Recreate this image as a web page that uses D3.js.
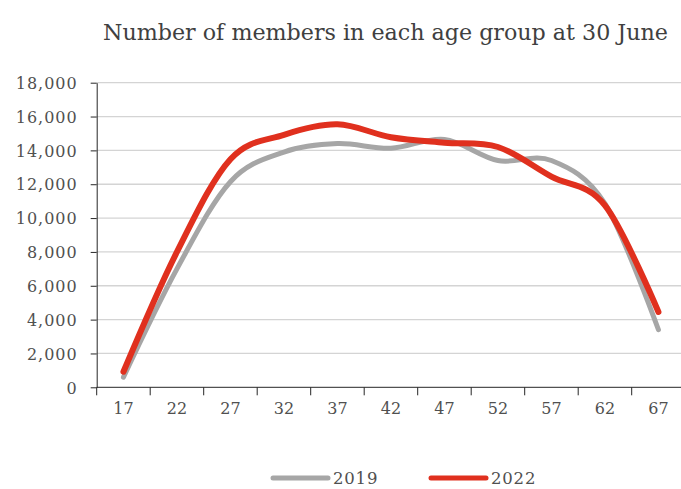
<!DOCTYPE html>
<html>
<head>
<meta charset="utf-8">
<script src="https://cdn.jsdelivr.net/npm/d3@7"></script>
<style>
  html, body { margin: 0; padding: 0; background: #ffffff; }
  svg { display: block; }
  .tick text { font-family: "DejaVu Serif", "Liberation Serif", serif; fill: #505050; }
</style>
</head>
<body>
<script>
// Age groups (youngest age of each five-year band)
const ageGroups = [17, 22, 27, 32, 37, 42, 47, 52, 57, 62, 67];
// Number of members in each age group at 30 June
const members2019 = [600, 7000, 12150, 13900, 14400, 14130, 14650, 13400, 13400, 10850, 3400];
const members2022 = [920, 8000, 13480, 14920, 15540, 14780, 14450, 14200, 12450, 10750, 4450];
const yTickValues = [0, 2000, 4000, 6000, 8000, 10000, 12000, 14000, 16000, 18000];
const seriesNames = ["2019", "2022"];
const seriesColors = ["#a6a6a6", "#e0301e"];

const W = 681, H = 489;
const plot = { left: 96.7, right: 685.2, top: 82.7, bottom: 387.3 };

const svg = d3.select("body").append("svg")
  .attr("width", W).attr("height", H)
  .attr("viewBox", `0 0 ${W} ${H}`);

const x = d3.scaleBand().domain(ageGroups).range([plot.left, plot.right]).padding(0);
const y = d3.scaleLinear().domain([0, 18000]).range([plot.bottom, plot.top]);
const cx = d => x(d) + x.bandwidth() / 2;

// Title, fitted to its width
const title = svg.append("text")
  .attr("x", 385.5).attr("y", 40)
  .attr("text-anchor", "middle")
  .style("font-family", "'DejaVu Serif', 'Liberation Serif', serif")
  .style("font-size", "22px")
  .style("fill", "#404040")
  .text("Number of members in each age group at 30 June");
const tw = title.node().getComputedTextLength();
title.style("font-size", (22 * 565 / tw).toFixed(2) + "px");

// Horizontal gridlines
svg.append("g")
  .selectAll("line")
  .data(yTickValues.filter(v => v > 0))
  .join("line")
  .attr("x1", plot.left).attr("x2", W)
  .attr("y1", d => y(d)).attr("y2", d => y(d))
  .attr("stroke", "#d4d4d4")
  .attr("stroke-width", 1.3);

// Y axis
const yAxis = svg.append("g")
  .attr("transform", `translate(${plot.left},0)`)
  .call(d3.axisLeft(y).tickValues(yTickValues).tickSize(6).tickSizeOuter(0)
    .tickPadding(13).tickFormat(d3.format(",")));
yAxis.select(".domain").attr("stroke", "#262626");
yAxis.selectAll(".tick line").attr("stroke", "#262626");
yAxis.selectAll(".tick text")
  .style("font-size", "16px")
  .style("letter-spacing", "1px")
  .attr("dy", "0.36em");

// X axis: labels centred in each band, tick marks on the band boundaries
const xAxis = svg.append("g")
  .attr("transform", `translate(0,${plot.bottom})`)
  .call(d3.axisBottom(x).tickSize(0).tickPadding(22));
xAxis.select(".domain").remove();
xAxis.selectAll(".tick text")
  .style("font-size", "16px")
  .attr("dy", "0.3em");

const boundaries = ageGroups.map(d => x(d)).concat([plot.right]);
svg.append("g")
  .selectAll("line")
  .data(boundaries)
  .join("line")
  .attr("x1", d => d).attr("x2", d => d)
  .attr("y1", plot.bottom).attr("y2", plot.bottom + 8)
  .attr("stroke", "#262626");
svg.append("line")
  .attr("x1", plot.left).attr("x2", W + 10)
  .attr("y1", plot.bottom).attr("y2", plot.bottom)
  .attr("stroke", "#262626");

// Smoothed series lines
const line = d3.line()
  .x((d, i) => cx(ageGroups[i]))
  .y(d => y(d))
  .curve(d3.curveCardinal.tension(0));

[members2019, members2022].forEach((vals, k) => {
  svg.append("path")
    .datum(vals)
    .attr("d", line)
    .attr("fill", "none")
    .attr("stroke", seriesColors[k])
    .attr("stroke-width", k === 0 ? 5 : 6)
    .attr("stroke-linecap", "round")
    .attr("stroke-linejoin", "round");
});

// Legend
const legendX = [273, 431];
const legend = svg.append("g");
seriesNames.forEach((name, k) => {
  legend.append("line")
    .attr("x1", legendX[k]).attr("x2", legendX[k] + 55)
    .attr("y1", 478).attr("y2", 478)
    .attr("stroke", seriesColors[k])
    .attr("stroke-width", 5)
    .attr("stroke-linecap", "round");
  legend.append("text")
    .attr("x", legendX[k] + 60).attr("y", 484)
    .style("font-family", "'DejaVu Serif', 'Liberation Serif', serif")
    .style("font-size", "16.5px")
    .style("letter-spacing", "0.8px")
    .style("fill", "#505050")
    .text(name);
});
</script>
</body>
</html>
